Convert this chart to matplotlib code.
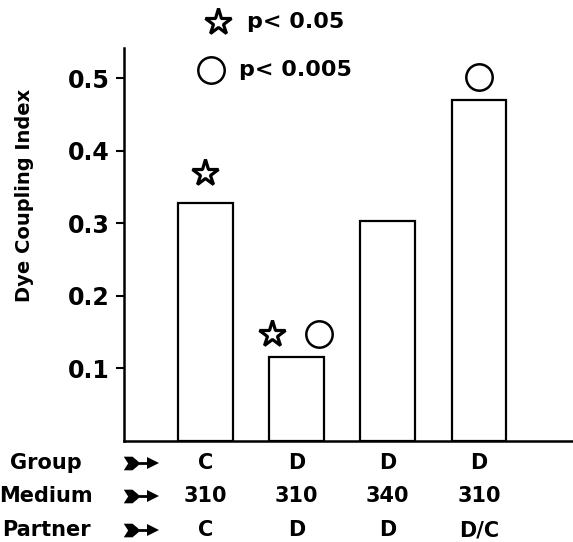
import numpy as np
import matplotlib
matplotlib.use("Agg")
from matplotlib import pyplot as plt
from matplotlib.lines import Line2D

# values
groups = ["C", "D", "D", "D"]
media = ["310", "310", "340", "310"]
partners = ["C", "D", "D", "D/C"]
coupling = [0.328, 0.116, 0.303, 0.470]
row_names = ["Group", "Medium", "Partner"]
yticks = [0.1, 0.2, 0.3, 0.4, 0.5]

# significance marks: (bar index, x offset, y offset)
stars = [(0, 0.0, 0.042), (1, -0.27, 0.032)]
circles = [(1, 0.25, 0.032), (3, 0.0, 0.032)]

W, H = 573, 542
fig = plt.figure(figsize=(W / 100, H / 100), dpi=100)
plt.rcParams['font.family'] = ['DejaVu Sans']
FW = 'bold'

def fx(px):
    return px / W

def fy(py):
    return 1 - py / H

ax = fig.add_axes([fx(124), fy(441), (W - 124) / W, (441 - 48) / H])
x = np.arange(len(coupling))
ax.bar(x, coupling, width=0.6, facecolor='white', edgecolor='black', linewidth=1.6)
ax.set_xlim(-0.89, 4.03)
ax.set_ylim(0, 0.542)

for s in ['top', 'right']:
    ax.spines[s].set_visible(False)
for s in ['left', 'bottom']:
    ax.spines[s].set_linewidth(1.8)
ax.set_xticks([])
ax.set_yticks(yticks)
ax.set_yticklabels([f"{t:.1f}" for t in yticks], fontsize=17, fontweight=FW)
ax.tick_params(axis='y', direction='out', length=6, width=1.5, pad=4)

fig.text(fx(25), fy(195), "Dye Coupling Index", rotation=90, ha='center', va='center',
         fontsize=14, fontweight=FW)

star_kw = dict(marker='*', ms=20, mfc='white', mec='black', mew=2.3, clip_on=False)
circ_kw = dict(marker='o', ms=19, mfc='white', mec='black', mew=1.8, clip_on=False)
for i, dx, dy in stars:
    ax.plot(x[i] + dx, coupling[i] + dy, **star_kw)
for i, dx, dy in circles:
    ax.plot(x[i] + dx, coupling[i] + dy, **circ_kw)

# legend at the top
fig.add_artist(Line2D([fx(218)], [fy(22)], **star_kw))
fig.add_artist(Line2D([fx(211)], [fy(70)], **circ_kw))
fig.text(fx(247), fy(22), "p< 0.05", fontsize=16, fontweight=FW, ha='left', va='center')
fig.text(fx(239), fy(70), "p< 0.005", fontsize=16, fontweight=FW, ha='left', va='center')

# fletched arrow marker
fletch = [(-1, 0.7), (-0.1, 0.7), (0.5, 0.2), (0.5, -0.2), (-0.1, -0.7), (-1, -0.7), (-0.55, 0)]

# row labels below the axis
rows = [groups, media, partners]
ys = [463, 496, 530]
for name, vals, yp in zip(row_names, rows, ys):
    fig.text(fx(46), fy(yp), name, fontsize=15, fontweight=FW, ha='center', va='center')
    fig.add_artist(Line2D([fx(130), fx(150)], [fy(yp), fy(yp)], color='black', lw=2))
    fig.add_artist(Line2D([fx(153)], [fy(yp)], marker='>', ms=8, color='black', mew=0))
    fig.add_artist(Line2D([fx(133)], [fy(yp)], marker=fletch, ms=14, color='black', mew=0))
    for i, v in enumerate(vals):
        ax.annotate(v, xy=(x[i], fy(yp)), xycoords=('data', 'figure fraction'),
                    fontsize=15, fontweight=FW, ha='center', va='center',
                    annotation_clip=False)

fig.savefig("out.png", dpi=100)
